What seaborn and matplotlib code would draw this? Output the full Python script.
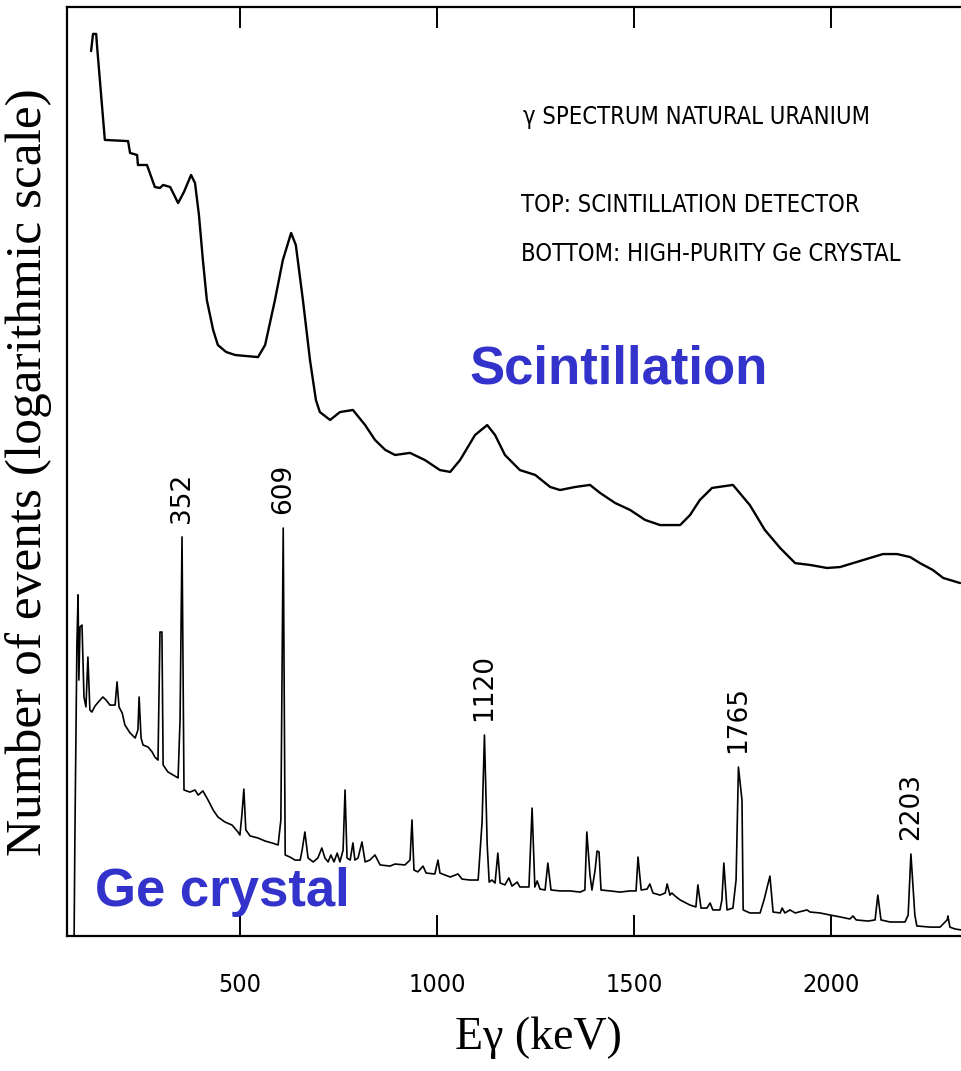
import matplotlib
matplotlib.use("Agg")
import matplotlib.pyplot as plt
import pandas as pd
import seaborn as sns

# Gamma spectrum of natural uranium, energies in keV, counts as log10(events)
scint_energy_kev = [121, 126, 134, 136, 156, 215, 220, 238, 240, 263, 283, 296, 304, 322,
                    342, 357, 375, 385, 395, 405, 415, 431, 443, 464, 487, 512, 545, 563,
                    588, 608, 629, 641, 659, 677, 692, 702, 728, 753, 786, 817, 842, 868,
                    893, 931, 969, 1007, 1033, 1058, 1096, 1127, 1147, 1172, 1210, 1249,
                    1287, 1312, 1350, 1388, 1414, 1452, 1490, 1528, 1566, 1617, 1642, 1667,
                    1698, 1751, 1794, 1832, 1871, 1909, 1947, 1990, 2023, 2056, 2091, 2132,
                    2168, 2201, 2226, 2259, 2285, 2328]
scint_log10_events = [4.810, 4.884, 4.884, 4.836, 4.427, 4.422, 4.371, 4.362, 4.319, 4.319,
                      4.224, 4.220, 4.233, 4.224, 4.155, 4.203, 4.276, 4.241, 4.103, 3.909,
                      3.737, 3.608, 3.543, 3.513, 3.500, 3.496, 3.491, 3.543, 3.737, 3.909,
                      4.026, 3.974, 3.737, 3.478, 3.306, 3.254, 3.220, 3.254, 3.263, 3.198,
                      3.134, 3.091, 3.069, 3.078, 3.047, 3.004, 2.996, 3.047, 3.155, 3.198,
                      3.155, 3.069, 3.004, 2.983, 2.931, 2.918, 2.931, 2.940, 2.905, 2.862,
                      2.832, 2.789, 2.767, 2.767, 2.810, 2.875, 2.927, 2.940, 2.853, 2.746,
                      2.668, 2.603, 2.595, 2.582, 2.586, 2.603, 2.621, 2.642, 2.642, 2.629,
                      2.603, 2.573, 2.539, 2.517]

ge_energy_kev = [78, 80, 85, 88, 90, 93, 98, 103, 108, 113, 118, 123, 131, 144, 151, 159,
                 169, 182, 187, 192, 200, 207, 220, 233, 240, 243, 248, 253, 266, 276, 283,
                 291, 296, 301, 304, 316, 334, 342, 347, 352, 357, 372, 385, 393, 405, 418,
                 431, 443, 461, 479, 494, 499, 504, 509, 514, 525, 545, 563, 580, 596, 603,
                 609, 614, 626, 639, 652, 657, 664, 672, 685, 697, 707, 715, 723, 730, 738,
                 746, 753, 761, 766, 771, 779, 786, 791, 799, 809, 817, 829, 842, 855, 880,
                 893, 918, 931, 936, 941, 951, 964, 972, 994, 1002, 1007, 1033, 1053, 1063,
                 1083, 1104, 1114, 1120, 1127, 1132, 1139, 1147, 1154, 1160, 1172, 1182,
                 1190, 1203, 1210, 1233, 1241, 1248, 1254, 1261, 1274, 1281, 1289, 1312,
                 1337, 1363, 1375, 1380, 1388, 1393, 1401, 1406, 1411, 1416, 1439, 1464,
                 1490, 1505, 1510, 1518, 1533, 1540, 1548, 1566, 1579, 1584, 1591, 1596,
                 1604, 1617, 1642, 1657, 1662, 1670, 1685, 1693, 1700, 1718, 1723, 1728,
                 1736, 1751, 1759, 1765, 1774, 1777, 1794, 1820, 1830, 1845, 1853, 1871,
                 1876, 1883, 1896, 1909, 1939, 1947, 1972, 1998, 2023, 2048, 2056, 2064,
                 2094, 2112, 2119, 2127, 2150, 2188, 2196, 2203, 2213, 2218, 2252, 2277,
                 2295, 2297, 2302, 2315, 2330]
ge_log10_events = [1.000, 1.431, 2.250, 2.466, 2.099, 2.328, 2.336, 2.026, 1.983, 2.198,
                   1.970, 1.961, 1.987, 2.013, 2.026, 2.013, 1.991, 1.991, 2.091, 1.983,
                   1.957, 1.905, 1.871, 1.849, 1.884, 2.026, 1.849, 1.819, 1.810, 1.789,
                   1.767, 1.754, 2.306, 2.306, 1.733, 1.703, 1.685, 1.677, 1.927, 2.716,
                   1.625, 1.616, 1.625, 1.603, 1.621, 1.582, 1.539, 1.509, 1.487, 1.474,
                   1.444, 1.431, 1.517, 1.629, 1.453, 1.427, 1.418, 1.405, 1.397, 1.388,
                   1.496, 2.754, 1.345, 1.336, 1.323, 1.323, 1.366, 1.444, 1.332, 1.315,
                   1.332, 1.375, 1.332, 1.315, 1.345, 1.315, 1.353, 1.315, 1.366, 1.625,
                   1.332, 1.323, 1.397, 1.323, 1.332, 1.401, 1.315, 1.323, 1.345, 1.302,
                   1.297, 1.306, 1.302, 1.323, 1.496, 1.280, 1.272, 1.297, 1.267, 1.263,
                   1.323, 1.267, 1.250, 1.263, 1.241, 1.237, 1.237, 1.487, 1.862, 1.388,
                   1.228, 1.237, 1.224, 1.353, 1.224, 1.216, 1.246, 1.211, 1.228, 1.207,
                   1.207, 1.547, 1.207, 1.233, 1.198, 1.194, 1.310, 1.194, 1.190, 1.190,
                   1.185, 1.194, 1.444, 1.259, 1.194, 1.280, 1.362, 1.358, 1.194, 1.190,
                   1.185, 1.190, 1.190, 1.336, 1.194, 1.198, 1.220, 1.181, 1.172, 1.181,
                   1.220, 1.172, 1.181, 1.168, 1.151, 1.129, 1.121, 1.216, 1.116, 1.116,
                   1.138, 1.108, 1.108, 1.151, 1.310, 1.108, 1.116, 1.237, 1.724, 1.582,
                   1.108, 1.095, 1.095, 1.151, 1.254, 1.099, 1.095, 1.116, 1.095, 1.108,
                   1.095, 1.108, 1.099, 1.095, 1.086, 1.078, 1.069, 1.082, 1.065, 1.060,
                   1.065, 1.172, 1.065, 1.056, 1.056, 1.086, 1.349, 1.086, 1.039, 1.034,
                   1.034, 1.065, 1.082, 1.034, 1.026, 1.022]

labelled_peaks_kev = [352, 609, 1120, 1765, 2203]
x_ticks_kev = [500, 1000, 1500, 2000]
x_range_kev = (59.9, 2330.2)
y_range_log10 = (0.9957, 5.0)

sns.set_style("white")
plt.rcParams["font.family"] = ["DejaVu Sans"]
plt.rcParams["text.color"] = "black"
plt.rcParams["xtick.color"] = "black"
plt.rcParams["axes.labelcolor"] = "black"

scint = pd.DataFrame({"energy": scint_energy_kev, "events": scint_log10_events})
ge = pd.DataFrame({"energy": ge_energy_kev, "events": ge_log10_events})

W, H = 961, 1071
fig = plt.figure(figsize=(W / 100, H / 100), dpi=100)
ax = fig.add_axes([67 / W, 1 - 936 / H, 1 - 67 / W, (936 - 7) / H])

sns.lineplot(data=scint, x="energy", y="events", ax=ax, color="black",
             linewidth=1.7, estimator=None, sort=False)
sns.lineplot(data=ge, x="energy", y="events", ax=ax, color="black",
             linewidth=1.2, estimator=None, sort=False)

ax.set_xlim(*x_range_kev)
ax.set_ylim(*y_range_log10)

for side in ("left", "top", "bottom"):
    ax.spines[side].set_visible(True)
    ax.spines[side].set_color("black")
    ax.spines[side].set_linewidth(1.6)
ax.spines["right"].set_visible(False)

ax.set_xticks(x_ticks_kev)
ax.set_xticklabels([str(t) for t in x_ticks_kev])
ax.set_yticks([])
ax.tick_params(axis="x", which="major", direction="in", length=15, width=1.4,
               top=True, bottom=True, labeltop=False, pad=27, color="black",
               labelcolor="black")
for lab in ax.get_xticklabels():
    lab.set_fontfamily("DejaVu Sans")
    lab.set_fontstretch("condensed")
    lab.set_fontsize(18)

ax.set_xlabel("")
ax.set_ylabel("")
fig.text(538 / W, 1 - 1038 / H, "Eγ (keV)", family="Liberation Serif",
         fontsize=33, ha="center", va="center", color="black")
fig.text(29 / W, 1 - 472 / H, "Number of events (logarithmic scale)",
         family="Liberation Serif", fontsize=37, rotation=90,
         ha="center", va="center", color="black")

# Energies of the identified lines
peak_heights = dict(zip(ge_energy_kev, ge_log10_events))
for e in labelled_peaks_kev:
    ax.annotate(str(e), xy=(e, peak_heights[e]), xytext=(0, 10),
                textcoords="offset points", rotation=90, ha="center",
                va="bottom", fontsize=19, family="DejaVu Sans", color="black")

note_kw = dict(family="DejaVu Sans", fontstretch="condensed", fontsize=17,
               ha="left", va="center", color="black")
fig.text(523 / W, 1 - 117 / H, "γ SPECTRUM NATURAL URANIUM", **note_kw)
fig.text(521 / W, 1 - 205 / H, "TOP: SCINTILLATION DETECTOR", **note_kw)
fig.text(521 / W, 1 - 254 / H, "BOTTOM: HIGH-PURITY Ge CRYSTAL", **note_kw)

blue = "#3333cc"
fig.text(619 / W, 1 - 383 / H, "Scintillation", family="Liberation Sans",
         fontweight="bold", fontsize=38, color=blue, ha="center", va="baseline")
fig.text(95 / W, 1 - 906 / H, "Ge crystal", family="Liberation Sans",
         fontweight="bold", fontsize=38, color=blue, ha="left", va="baseline")

fig.savefig("out.png", dpi=100, facecolor="white")
